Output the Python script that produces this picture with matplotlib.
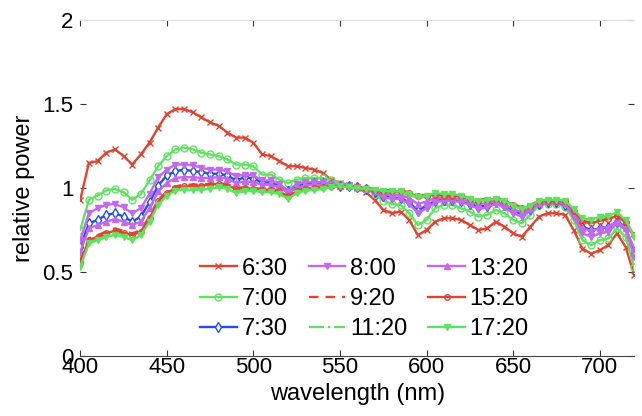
import numpy as np
import matplotlib
matplotlib.use("Agg")
import matplotlib.pyplot as plt

plt.rcParams['font.family'] = ['Liberation Sans', 'DejaVu Sans']

# wavelength samples (nm)
wavelength = np.arange(400, 721, 5)

labels = ['6:30', '7:00', '7:30', '8:00', '9:20', '11:20', '13:20', '15:20', '17:20']

p0630 = [0.93, 1.15, 1.16, 1.21, 1.23, 1.19, 1.14, 1.20, 1.27, 1.36, 1.44, 1.47, 1.47,
         1.45, 1.42, 1.39, 1.37, 1.33, 1.30, 1.30, 1.27, 1.20, 1.19, 1.16, 1.13, 1.13,
         1.12, 1.11, 1.09, 1.05, 1.03, 1.02, 1.00, 0.975, 0.93, 0.87, 0.85, 0.86, 0.81,
         0.72, 0.75, 0.80, 0.82, 0.82, 0.81, 0.78, 0.75, 0.76, 0.80, 0.77, 0.73, 0.71,
         0.77, 0.83, 0.85, 0.85, 0.84, 0.75, 0.64, 0.61, 0.63, 0.66, 0.73, 0.65, 0.48]
p0700 = [0.75, 0.93, 0.955, 0.985, 0.995, 0.975, 0.93, 0.965, 1.045, 1.13, 1.19, 1.23, 1.24,
         1.23, 1.21, 1.20, 1.19, 1.17, 1.14, 1.14, 1.13, 1.08, 1.08, 1.05, 1.03, 1.05,
         1.06, 1.06, 1.06, 1.045, 1.025, 1.015, 1.005, 0.995, 0.965, 0.925, 0.905, 0.90, 0.85,
         0.78, 0.81, 0.88, 0.90, 0.90, 0.88, 0.86, 0.83, 0.84, 0.87, 0.85, 0.81, 0.79,
         0.84, 0.90, 0.905, 0.905, 0.89, 0.81, 0.69, 0.66, 0.69, 0.70, 0.76, 0.71, 0.53]
p0730 = [0.65, 0.79, 0.81, 0.84, 0.85, 0.83, 0.80, 0.83, 0.915, 1.015, 1.075, 1.10, 1.11,
         1.10, 1.095, 1.085, 1.085, 1.075, 1.045, 1.065, 1.055, 1.035, 1.035, 1.015, 0.985, 1.015,
         1.025, 1.03, 1.03, 1.02, 1.015, 1.01, 1.005, 0.995, 0.975, 0.955, 0.945, 0.94, 0.915,
         0.865, 0.895, 0.925, 0.93, 0.93, 0.92, 0.905, 0.89, 0.895, 0.915, 0.90, 0.865, 0.845,
         0.875, 0.905, 0.915, 0.915, 0.90, 0.845, 0.77, 0.75, 0.76, 0.77, 0.80, 0.77, 0.61]
p0800 = [0.69, 0.85, 0.88, 0.90, 0.905, 0.885, 0.85, 0.88, 0.965, 1.065, 1.11, 1.14, 1.14,
         1.135, 1.12, 1.11, 1.11, 1.10, 1.07, 1.08, 1.075, 1.045, 1.045, 1.025, 0.985, 1.025,
         1.035, 1.035, 1.035, 1.025, 1.015, 1.015, 1.005, 0.995, 0.975, 0.945, 0.935, 0.935, 0.905,
         0.85, 0.88, 0.915, 0.925, 0.925, 0.915, 0.90, 0.875, 0.885, 0.905, 0.885, 0.85, 0.83,
         0.87, 0.905, 0.915, 0.915, 0.905, 0.83, 0.73, 0.71, 0.73, 0.74, 0.79, 0.75, 0.59]
p0920 = [0.57, 0.70, 0.72, 0.74, 0.76, 0.745, 0.73, 0.75, 0.83, 0.93, 0.98, 1.01, 1.02,
         1.02, 1.02, 1.025, 1.03, 1.02, 1.00, 1.005, 1.00, 0.995, 0.995, 0.985, 0.955, 0.985,
         1.00, 1.005, 1.01, 1.015, 1.015, 1.01, 1.005, 1.00, 0.995, 0.99, 0.985, 0.985, 0.975,
         0.955, 0.96, 0.965, 0.96, 0.96, 0.955, 0.94, 0.93, 0.935, 0.94, 0.93, 0.905, 0.885,
         0.90, 0.925, 0.93, 0.93, 0.925, 0.87, 0.805, 0.795, 0.81, 0.82, 0.84, 0.80, 0.70]
p1120 = [0.55, 0.68, 0.70, 0.72, 0.735, 0.725, 0.71, 0.73, 0.81, 0.91, 0.965, 0.99, 1.00,
         1.00, 1.00, 1.005, 1.01, 1.00, 0.98, 0.985, 0.985, 0.98, 0.98, 0.97, 0.94, 0.97,
         0.985, 0.99, 0.995, 1.005, 1.01, 1.005, 1.00, 0.995, 0.99, 0.98, 0.975, 0.975, 0.96,
         0.94, 0.95, 0.96, 0.955, 0.955, 0.95, 0.935, 0.925, 0.93, 0.935, 0.925, 0.895, 0.875,
         0.89, 0.92, 0.925, 0.925, 0.92, 0.87, 0.81, 0.80, 0.815, 0.825, 0.845, 0.805, 0.71]
p1320 = [0.62, 0.76, 0.78, 0.80, 0.815, 0.80, 0.78, 0.80, 0.88, 0.98, 1.03, 1.06, 1.065,
         1.065, 1.06, 1.06, 1.065, 1.055, 1.03, 1.04, 1.035, 1.02, 1.02, 1.005, 0.97, 1.00,
         1.015, 1.02, 1.02, 1.02, 1.015, 1.01, 1.005, 0.995, 0.985, 0.97, 0.96, 0.96, 0.94,
         0.905, 0.92, 0.94, 0.94, 0.94, 0.935, 0.92, 0.905, 0.91, 0.92, 0.905, 0.875, 0.855,
         0.88, 0.91, 0.92, 0.92, 0.91, 0.85, 0.76, 0.745, 0.76, 0.77, 0.80, 0.76, 0.64]
p1520 = [0.56, 0.69, 0.71, 0.73, 0.745, 0.735, 0.72, 0.74, 0.82, 0.92, 0.97, 1.00, 1.01,
         1.01, 1.015, 1.02, 1.025, 1.015, 0.995, 1.00, 0.995, 0.99, 0.99, 0.98, 0.95, 0.98,
         0.995, 1.00, 1.005, 1.01, 1.01, 1.01, 1.005, 1.00, 0.99, 0.985, 0.98, 0.98, 0.97,
         0.95, 0.955, 0.96, 0.955, 0.955, 0.95, 0.935, 0.925, 0.93, 0.935, 0.925, 0.90, 0.88,
         0.895, 0.92, 0.925, 0.925, 0.92, 0.865, 0.80, 0.79, 0.805, 0.815, 0.835, 0.795, 0.72]
p1720 = [0.53, 0.67, 0.69, 0.71, 0.72, 0.71, 0.69, 0.72, 0.80, 0.90, 0.955, 0.985, 0.99,
         0.99, 0.99, 0.995, 1.005, 0.995, 0.97, 0.98, 0.985, 0.975, 0.975, 0.965, 0.935, 0.97,
         0.985, 0.99, 0.995, 1.005, 1.01, 1.005, 1.00, 0.995, 0.99, 0.985, 0.98, 0.98, 0.965,
         0.945, 0.955, 0.97, 0.965, 0.965, 0.955, 0.935, 0.925, 0.93, 0.935, 0.925, 0.895, 0.875,
         0.895, 0.925, 0.93, 0.93, 0.925, 0.875, 0.82, 0.81, 0.83, 0.835, 0.855, 0.81, 0.71]

series = [p0630, p0700, p0730, p0800, p0920, p1120, p1320, p1520, p1720]

red = '#e2432f'
green = '#5fe35f'
blue = '#1f4fe6'
purple = '#c468f0'

styles = [
    dict(color=red, marker='x', ls='-', ms=4, mfc=red),
    dict(color=green, marker='o', ls='-', ms=5, mfc='none'),
    dict(color=blue, marker='d', ls='-', ms=5, mfc='white'),
    dict(color=purple, marker='v', ls='-', ms=5, mfc=purple),
    dict(color=red, marker='', ls=(0, (4, 3))),
    dict(color=green, marker='', ls='-.'),
    dict(color=purple, marker='^', ls='-', ms=5, mfc=purple),
    dict(color=red, marker='o', ls='-', ms=4, mfc='none'),
    dict(color=green, marker='v', ls='-', ms=5, mfc=green),
]

fig = plt.figure(figsize=(6.42, 4.16), dpi=100)
ax = fig.add_axes([0.125, 0.144, 0.863, 0.808])

for vals, lab, st in zip(series, labels, styles):
    ax.plot(wavelength, vals, lw=1.7, label=lab, **st)

ax.set_xlim(400, 720)
ax.set_ylim(0, 2)
ax.set_xticks([400, 450, 500, 550, 600, 650, 700])
ax.set_yticks([0, 0.5, 1, 1.5, 2])
ax.set_yticklabels(['0', '0.5', '1', '1.5', '2'])
ax.tick_params(direction='in', top=True, right=True, labelsize=16, length=4, width=0.8,
               colors='#333333', labelcolor='black')
ax.tick_params(axis='x', pad=1)
ax.tick_params(axis='y', pad=5)

ax.spines['left'].set_visible(False)
ax.spines['right'].set_visible(False)
ax.spines['top'].set_color('#dddddd')
ax.spines['bottom'].set_color('#444444')

ax.set_xlabel('wavelength (nm)', fontsize=17, labelpad=3)
ax.set_ylabel('relative power', fontsize=17, labelpad=5)

ax.legend(ncol=3, loc='upper left', bbox_to_anchor=(0.199, 0.321), frameon=False,
          fontsize=17, handlelength=1.55, handletextpad=0.2, columnspacing=0.9,
          labelspacing=0.35, borderaxespad=0)

fig.savefig('out.png', dpi=100)
